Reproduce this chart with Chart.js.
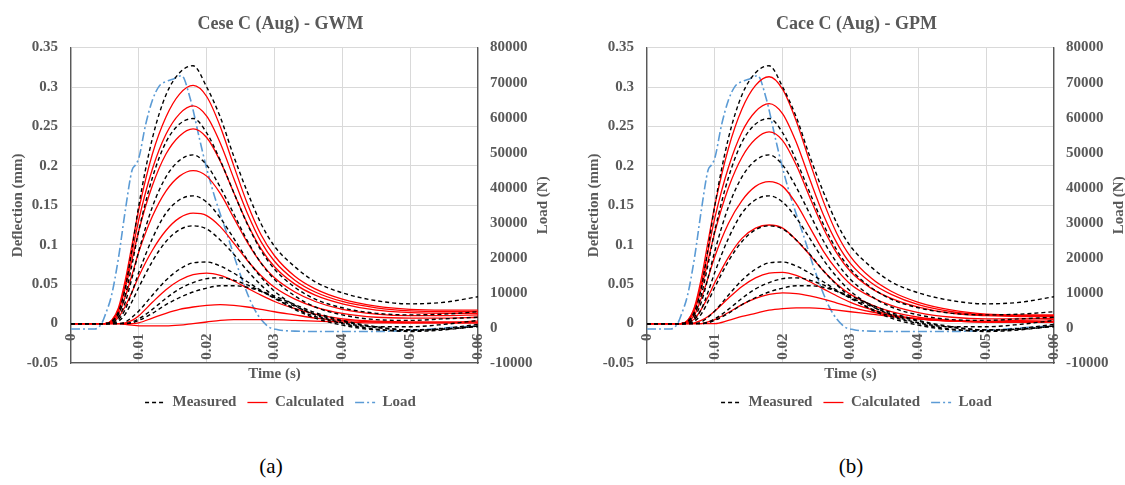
<!DOCTYPE html>
<html>
<head>
<meta charset="utf-8">
<script src="https://cdn.jsdelivr.net/npm/chart.js@4.4.1/dist/chart.umd.min.js"></script>
<style>
    body { margin: 0; width: 1125px; height: 485px; overflow: hidden; background: #fff; position: relative; }
    .panel { position: absolute; top: 0; width: 560px; height: 423px; }
    #panelA { left: 0; }
    #panelB { left: 576px; }
    .caption { position: absolute; top: 454px; width: 60px; margin-left: -30px; text-align: center;
               font-family: "Liberation Serif", serif; font-size: 21px; color: #000; }
</style>
</head>
<body>
<div class="panel" id="panelA"><canvas id="chartA"></canvas></div>
<div class="panel" id="panelB"><canvas id="chartB"></canvas></div>
<div class="caption" style="left: 271px;">(a)</div>
<div class="caption" style="left: 851px;">(b)</div>

<script>
// Waktu (s) untuk kurva defleksi
const time = [0, 0.005, 0.006, 0.007, 0.008, 0.009, 0.010, 0.012, 0.014, 0.016, 0.018, 0.020,
              0.022, 0.024, 0.026, 0.028, 0.030, 0.033, 0.036, 0.040, 0.045, 0.050, 0.055, 0.060];

// Defleksi terukur (mm), sama untuk kedua model
const measured1 = [0, 0, 0.003, 0.015, 0.045, 0.095, 0.150, 0.235, 0.290, 0.318, 0.327, 0.300, 0.262, 0.212, 0.167, 0.127, 0.098, 0.072, 0.053, 0.039, 0.029, 0.025, 0.027, 0.034];
const measured2 = [0, 0, 0.002, 0.012, 0.036, 0.075, 0.118, 0.185, 0.230, 0.253, 0.260, 0.242, 0.207, 0.166, 0.126, 0.093, 0.069, 0.046, 0.031, 0.020, 0.013, 0.011, 0.012, 0.015];
const measured3 = [0, 0, 0.001, 0.008, 0.027, 0.058, 0.092, 0.148, 0.186, 0.207, 0.214, 0.201, 0.173, 0.139, 0.105, 0.077, 0.056, 0.035, 0.021, 0.011, 0.005, 0.004, 0.006, 0.008];
const measured4 = [0, 0, 0, 0.005, 0.018, 0.040, 0.065, 0.108, 0.140, 0.157, 0.162, 0.154, 0.134, 0.108, 0.081, 0.059, 0.041, 0.023, 0.011, 0.001, -0.004, -0.004, -0.001, 0.004];
const measured5 = [0, 0, 0, 0.003, 0.012, 0.028, 0.046, 0.079, 0.104, 0.119, 0.124, 0.120, 0.106, 0.088, 0.067, 0.049, 0.034, 0.018, 0.007, -0.002, -0.008, -0.009, -0.006, -0.001];
const measured6 = [0, 0, 0, 0, 0.002, 0.008, 0.016, 0.036, 0.055, 0.069, 0.077, 0.078, 0.073, 0.064, 0.053, 0.042, 0.032, 0.019, 0.009, 0.000, -0.007, -0.010, -0.008, -0.003];
const measured7 = [0, 0, 0, 0, 0, 0.002, 0.006, 0.018, 0.032, 0.044, 0.052, 0.057, 0.058, 0.055, 0.049, 0.041, 0.033, 0.022, 0.012, 0.003, -0.005, -0.008, -0.007, -0.003];
const measured8 = [0, 0, 0, 0, 0, 0.001, 0.004, 0.013, 0.024, 0.033, 0.040, 0.045, 0.048, 0.048, 0.046, 0.041, 0.035, 0.024, 0.014, 0.004, -0.004, -0.008, -0.007, -0.004];

// Defleksi hitungan model GWM (mm)
const gwm1 = [0, 0, 0.004, 0.020, 0.055, 0.100, 0.145, 0.215, 0.262, 0.291, 0.302, 0.288, 0.250, 0.200, 0.152, 0.113, 0.086, 0.060, 0.044, 0.031, 0.022, 0.018, 0.017, 0.017];
const gwm2 = [0, 0, 0.004, 0.018, 0.050, 0.090, 0.132, 0.196, 0.240, 0.266, 0.276, 0.263, 0.229, 0.184, 0.140, 0.104, 0.079, 0.055, 0.040, 0.028, 0.020, 0.016, 0.015, 0.015];
const gwm3 = [0, 0, 0.003, 0.016, 0.045, 0.081, 0.118, 0.175, 0.215, 0.238, 0.247, 0.236, 0.206, 0.166, 0.127, 0.095, 0.072, 0.050, 0.036, 0.025, 0.017, 0.014, 0.013, 0.013];
const gwm4 = [0, 0, 0.002, 0.012, 0.034, 0.062, 0.091, 0.136, 0.168, 0.187, 0.194, 0.187, 0.165, 0.134, 0.103, 0.077, 0.058, 0.040, 0.028, 0.018, 0.012, 0.010, 0.010, 0.011];
const gwm5 = [0, 0, 0.001, 0.008, 0.022, 0.040, 0.060, 0.093, 0.118, 0.134, 0.140, 0.137, 0.123, 0.102, 0.080, 0.061, 0.046, 0.031, 0.021, 0.013, 0.008, 0.007, 0.007, 0.008];
const gwm6 = [0, 0, 0, 0, 0.001, 0.004, 0.010, 0.027, 0.043, 0.055, 0.062, 0.064, 0.061, 0.054, 0.045, 0.036, 0.028, 0.019, 0.012, 0.006, 0.003, 0.002, 0.002, 0.003];
const gwm7 = [0, 0, 0, 0, 0, 0, 0.001, 0.007, 0.013, 0.018, 0.021, 0.023, 0.024, 0.023, 0.021, 0.018, 0.015, 0.011, 0.007, 0.004, 0.002, 0.001, 0.001, 0.001];
const gwm8 = [0, 0, 0, 0, -0.001, -0.002, -0.003, -0.003, -0.003, -0.002, 0, 0.002, 0.004, 0.005, 0.005, 0.005, 0.005, 0.004, 0.003, 0.002, 0.001, 0.001, 0.001, 0.001];

// Defleksi hitungan model GPM (mm)
const gpm1 = [0, 0, 0.004, 0.021, 0.057, 0.104, 0.150, 0.222, 0.272, 0.302, 0.313, 0.297, 0.257, 0.205, 0.155, 0.114, 0.085, 0.058, 0.041, 0.027, 0.017, 0.012, 0.011, 0.011];
const gpm2 = [0, 0, 0.004, 0.019, 0.051, 0.092, 0.134, 0.198, 0.243, 0.269, 0.279, 0.266, 0.230, 0.183, 0.138, 0.102, 0.076, 0.052, 0.037, 0.024, 0.015, 0.011, 0.010, 0.010];
const gpm3 = [0, 0, 0.003, 0.016, 0.044, 0.080, 0.116, 0.172, 0.211, 0.234, 0.243, 0.232, 0.201, 0.160, 0.121, 0.089, 0.066, 0.045, 0.032, 0.021, 0.013, 0.010, 0.009, 0.009];
const gpm4 = [0, 0, 0.002, 0.011, 0.032, 0.058, 0.085, 0.127, 0.156, 0.174, 0.180, 0.174, 0.152, 0.122, 0.092, 0.068, 0.050, 0.034, 0.023, 0.014, 0.008, 0.006, 0.006, 0.007];
const gpm5 = [0, 0, 0.001, 0.006, 0.018, 0.034, 0.052, 0.084, 0.108, 0.121, 0.125, 0.121, 0.106, 0.087, 0.067, 0.050, 0.037, 0.024, 0.015, 0.008, 0.004, 0.003, 0.004, 0.005];
const gpm6 = [0, 0, 0, 0.001, 0.004, 0.009, 0.016, 0.032, 0.047, 0.058, 0.064, 0.065, 0.061, 0.053, 0.044, 0.035, 0.027, 0.018, 0.011, 0.006, 0.003, 0.002, 0.002, 0.003];
const gpm7 = [0, 0, 0, 0, 0, 0.002, 0.005, 0.014, 0.024, 0.032, 0.037, 0.039, 0.038, 0.035, 0.031, 0.026, 0.021, 0.015, 0.010, 0.006, 0.003, 0.002, 0.002, 0.002];
const gpm8 = [0, 0, 0, 0, 0, 0, 0, 0.004, 0.009, 0.013, 0.017, 0.019, 0.020, 0.020, 0.019, 0.017, 0.015, 0.012, 0.009, 0.006, 0.003, 0.002, 0.002, 0.002];

// Beban (N) dan waktunya
const loadTime = [0, 0.0035, 0.0045, 0.005, 0.006, 0.007, 0.008, 0.009, 0.0095, 0.010, 0.011, 0.012, 0.013, 0.014, 0.015, 0.0163,
                  0.0175, 0.019, 0.020, 0.0212, 0.023, 0.025, 0.027, 0.029, 0.0305, 0.033, 0.036, 0.040, 0.045, 0.050, 0.055, 0.060];
const loadValues = [-300, -300, 1200, 3500, 9500, 20000, 33500, 45000, 46500, 48500, 58000, 65000, 69000, 70300, 71000, 72000,
                    66000, 53500, 45500, 37300, 26800, 15000, 5500, 500, -500, -900, -1000, -1000, -1000, -700, 0, 600];

const measuredSet = [measured1, measured2, measured3, measured4, measured5, measured6, measured7, measured8];
const gwmSet = [gwm1, gwm2, gwm3, gwm4, gwm5, gwm6, gwm7, gwm8];
const gpmSet = [gpm1, gpm2, gpm3, gpm4, gpm5, gpm6, gpm7, gpm8];

const textColor = '#595959';
const axisColor = '#595959';
const gridColor = '#d9d9d9';
const fontFamily = '"Liberation Serif", "Times New Roman", serif';

Chart.defaults.font.family = fontFamily;
Chart.defaults.font.weight = 'bold';
Chart.defaults.font.size = 15;
Chart.defaults.color = textColor;

const measuredStyle = { borderColor: '#000000', borderWidth: 1.4, borderDash: [4, 3] };
const calcStyle = { borderColor: '#ff0000', borderWidth: 1.3, borderDash: [] };
const loadStyle = { borderColor: '#5b9bd5', borderWidth: 1.6, borderDash: [9, 3, 2, 3] };

function toPoints(xs, ys) {
    return xs.map((x, i) => ({ x: x, y: ys[i] }));
}

function roundLabel(value) {
    return String(Math.round(value * 100) / 100);
}

// Judul sumbu kanan ditulis dari bawah ke atas
const loadTitlePlugin = {
    id: 'loadTitle',
    afterDraw(chart) {
        const s = chart.scales.y2;
        const ctx = chart.ctx;
        ctx.save();
        ctx.translate(s.right - 3 - 9, (s.top + s.bottom) / 2);
        ctx.rotate(-Math.PI / 2);
        ctx.font = 'bold 15px ' + fontFamily;
        ctx.fillStyle = textColor;
        ctx.textAlign = 'center';
        ctx.textBaseline = 'middle';
        ctx.fillText('Load (N)', 0, 0);
        ctx.restore();
    }
};

function createChart(canvasId, titleText, calcSet) {
    const datasets = [];
    measuredSet.forEach(arr => {
        datasets.push(Object.assign({ label: 'Measured', data: toPoints(time, arr), yAxisID: 'y' }, measuredStyle));
    });
    calcSet.forEach(arr => {
        datasets.push(Object.assign({ label: 'Calculated', data: toPoints(time, arr), yAxisID: 'y' }, calcStyle));
    });
    datasets.push(Object.assign({ label: 'Load', data: toPoints(loadTime, loadValues), yAxisID: 'y2' }, loadStyle));

    const legendItems = [
        { text: 'Measured', style: measuredStyle },
        { text: 'Calculated', style: calcStyle },
        { text: 'Load', style: loadStyle }
    ];

    return new Chart(document.getElementById(canvasId), {
        type: 'line',
        data: { datasets: datasets },
        options: {
            responsive: true,
            maintainAspectRatio: false,
            animation: false,
            events: [],
            layout: { padding: { left: 6, right: 5, top: 0, bottom: 3 } },
            elements: {
                point: { radius: 0 },
                line: { fill: false, cubicInterpolationMode: 'monotone' }
            },
            scales: {
                x: {
                    type: 'linear',
                    position: 'bottom',
                    min: 0,
                    max: 0.06,
                    grid: { color: gridColor, drawTicks: false },
                    border: { color: axisColor, width: 1.3 },
                    ticks: { display: false, stepSize: 0.01 },
                    title: { display: true, text: 'Time (s)', color: textColor, padding: { top: 2, bottom: 1 } },
                    afterFit: s => { s.height = 21; }
                },
                xLabels: {
                    type: 'linear',
                    axis: 'x',
                    position: { y: 0 },
                    min: 0,
                    max: 0.06,
                    grid: { display: false, drawTicks: false },
                    border: { display: false },
                    ticks: {
                        stepSize: 0.01,
                        autoSkip: false,
                        minRotation: 90,
                        maxRotation: 90,
                        padding: 10,
                        callback: roundLabel
                    }
                },
                y: {
                    position: 'left',
                    min: -0.05,
                    max: 0.35,
                    grid: { color: gridColor, drawTicks: false },
                    border: { color: axisColor, width: 1.3 },
                    ticks: { stepSize: 0.05, padding: 13, callback: roundLabel },
                    title: { display: true, text: 'Deflection (mm)', color: textColor, padding: { top: 3, bottom: 0 } },
                    afterFit: s => { s.width = 65; }
                },
                y2: {
                    position: 'right',
                    min: -10000,
                    max: 80000,
                    grid: { display: false, drawTicks: false },
                    border: { color: axisColor, width: 1.3 },
                    ticks: { stepSize: 10000, padding: 12, callback: v => String(v) },
                    title: { display: true, text: 'Load (N)', color: 'rgba(0,0,0,0)', padding: { top: 3, bottom: 1 } },
                    afterFit: s => { s.width = 77; }
                }
            },
            plugins: {
                title: {
                    display: true,
                    text: titleText,
                    color: textColor,
                    font: { size: 18, weight: 'bold' },
                    padding: { top: 14, bottom: 12 }
                },
                legend: {
                    position: 'bottom',
                    labels: {
                        usePointStyle: true,
                        pointStyle: 'line',
                        pointStyleWidth: 20,
                        padding: 11,
                        color: textColor,
                        generateLabels: () => legendItems.map(item => ({
                            text: item.text,
                            fillStyle: item.style.borderColor,
                            strokeStyle: item.style.borderColor,
                            lineWidth: item.style.borderWidth,
                            lineDash: item.style.borderDash,
                            pointStyle: 'line',
                            fontColor: textColor,
                            hidden: false
                        }))
                    }
                },
                tooltip: { enabled: false }
            }
        },
        plugins: [loadTitlePlugin]
    });
}

createChart('chartA', 'Cese C (Aug) - GWM', gwmSet);
createChart('chartB', 'Cace C (Aug) - GPM', gpmSet);
</script>
</body>
</html>
